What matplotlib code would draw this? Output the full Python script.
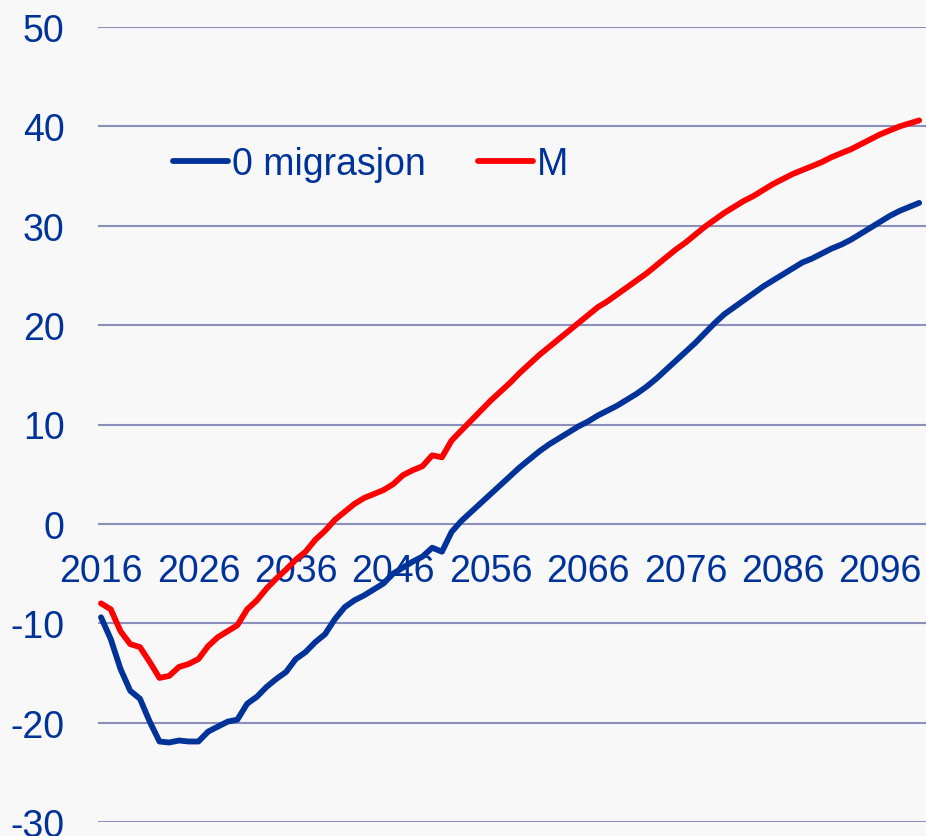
import matplotlib
matplotlib.use("Agg")
import matplotlib.pyplot as plt
import numpy as np

plt.rcParams['font.family'] = ['Liberation Sans', 'DejaVu Sans']
plt.rcParams['axes.unicode_minus'] = False

years = list(range(2016, 2101))

zero_migration = [
    -9.4, -11.6, -14.6, -16.8, -17.6, -19.9, -21.9, -22.0, -21.8, -21.9,
    -21.9, -20.9, -20.4, -19.9, -19.7, -18.1, -17.4, -16.4, -15.6, -14.9,
    -13.6, -12.9, -11.9, -11.1, -9.6, -8.4, -7.7, -7.2, -6.6, -6.0,
    -5.0, -4.4, -3.8, -3.3, -2.4, -2.8, -0.8, 0.3, 1.2, 2.1,
    3.0, 3.9, 4.8, 5.7, 6.5, 7.3, 8.0, 8.6, 9.2, 9.8,
    10.3, 10.9, 11.4, 11.9, 12.5, 13.1, 13.8, 14.6, 15.5, 16.4,
    17.3, 18.2, 19.2, 20.2, 21.1, 21.8, 22.5, 23.2, 23.9, 24.5,
    25.1, 25.7, 26.3, 26.7, 27.2, 27.7, 28.1, 28.6, 29.2, 29.8,
    30.4, 31.0, 31.5, 31.9, 32.3,
]

m_series = [
    -8.0, -8.6, -10.8, -12.1, -12.4, -13.9, -15.5, -15.3, -14.4, -14.1,
    -13.6, -12.3, -11.4, -10.8, -10.2, -8.6, -7.7, -6.5, -5.5, -4.6,
    -3.6, -2.8, -1.6, -0.7, 0.4, 1.2, 2.0, 2.6, 3.0, 3.4,
    4.0, 4.9, 5.4, 5.8, 6.9, 6.7, 8.4, 9.4, 10.4, 11.4,
    12.4, 13.3, 14.2, 15.2, 16.1, 17.0, 17.8, 18.6, 19.4, 20.2,
    21.0, 21.8, 22.4, 23.1, 23.8, 24.5, 25.2, 26.0, 26.8, 27.6,
    28.3, 29.1, 29.9, 30.6, 31.3, 31.9, 32.5, 33.0, 33.6, 34.2,
    34.7, 35.2, 35.6, 36.0, 36.4, 36.9, 37.3, 37.7, 38.2, 38.7,
    39.2, 39.6, 40.0, 40.3, 40.6,
]

x_ticks = list(range(2016, 2097, 10))
y_ticks = list(range(-30, 51, 10))

text_color = '#003399'
bg = '#f8f8f8'
fs = 27
lw = 4.2

fig = plt.figure(figsize=(9.26, 8.37), dpi=100, facecolor=bg)
ax = fig.add_axes([98/926, 14/837, 1 - 98/926, (823-28)/837])
ax.set_facecolor(bg)

ax.plot(years, zero_migration, color='#003399', lw=lw, label='0 migrasjon',
        solid_capstyle='round', solid_joinstyle='round')
ax.plot(years, m_series, color='#ff0000', lw=lw, label='M',
        solid_capstyle='round', solid_joinstyle='round')

ax.set_ylim(-30, 50)
ax.set_xlim(2015.69, 2100.7)
ax.set_yticks(y_ticks)
ax.set_xticks(x_ticks)
ax.yaxis.grid(True, color='#8a8fbb', lw=1.5)
ax.set_axisbelow(True)

for s in ['top', 'right', 'left']:
    ax.spines[s].set_visible(False)
ax.spines['bottom'].set_position(('data', 0))
ax.spines['bottom'].set_visible(False)

ax.tick_params(axis='y', length=0, pad=24, labelsize=fs, labelcolor=text_color)
ax.tick_params(axis='x', length=0, pad=21, labelsize=fs, labelcolor=text_color)

leg = ax.legend(loc='center left', bbox_to_anchor=(173/926, 1 - 165/837),
                bbox_transform=fig.transFigure, ncol=2, frameon=False,
                fontsize=fs, handlelength=1.47, handletextpad=0.1,
                columnspacing=1.4, borderpad=0, borderaxespad=0)
for t in leg.get_texts():
    t.set_color(text_color)
for h in leg.get_lines():
    h.set_linewidth(lw)

fig.savefig('out.png', dpi=100, facecolor=bg)
